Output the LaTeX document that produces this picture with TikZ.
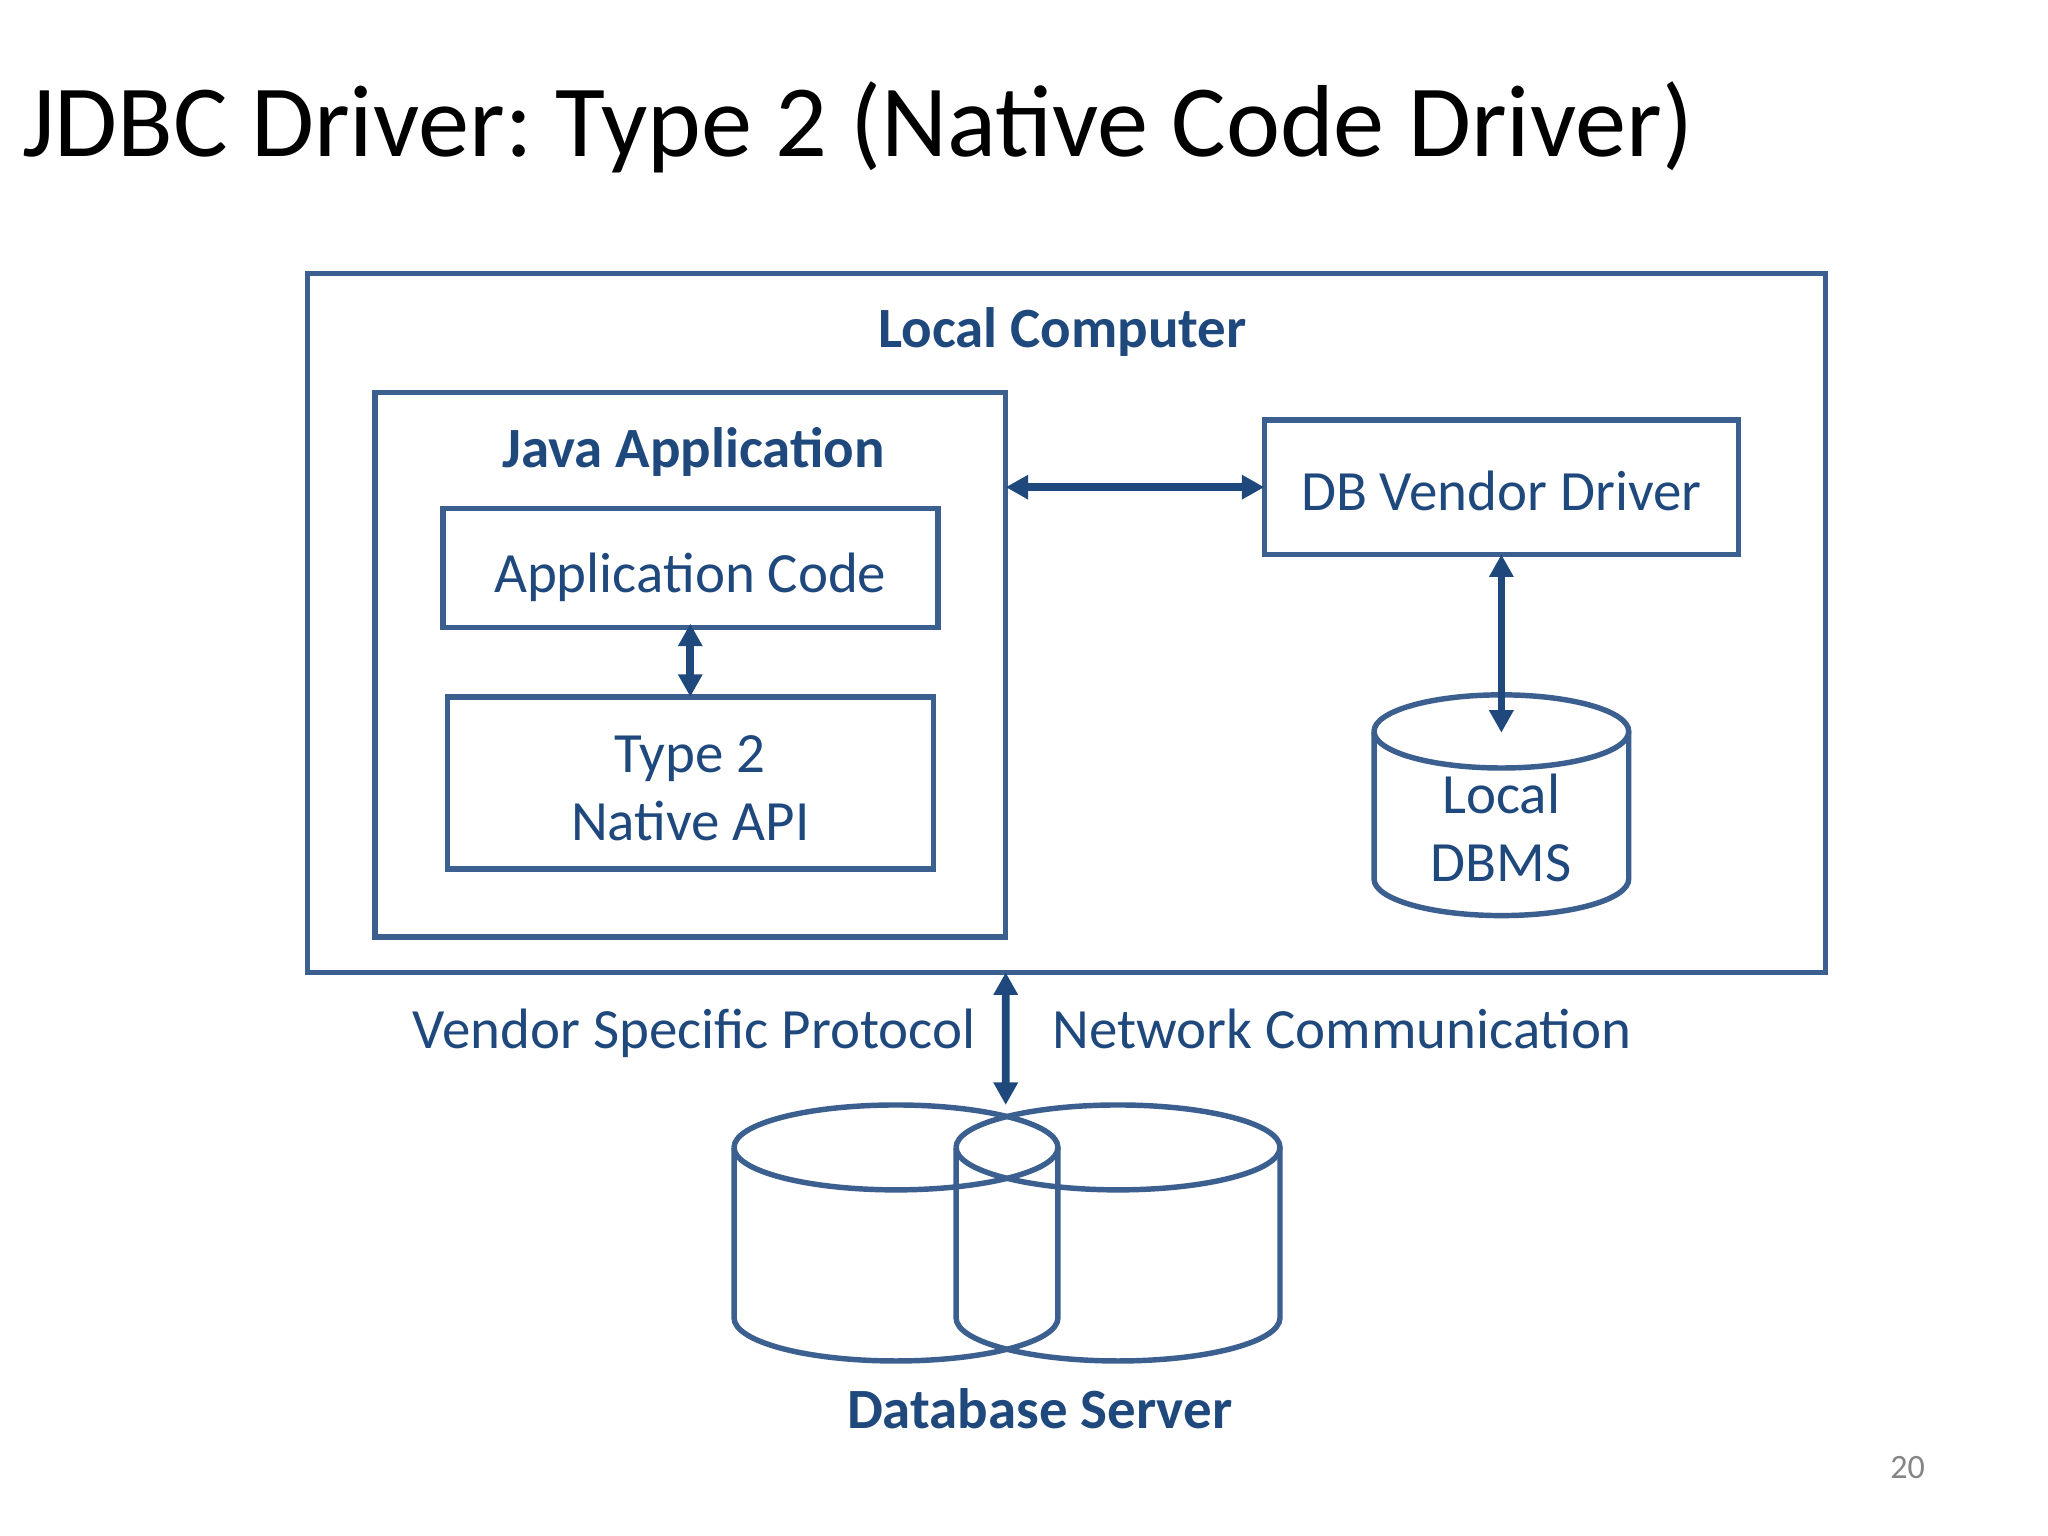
\documentclass[tikz,border=0pt]{standalone}
\usepackage{fontspec}
\setmainfont{Carlito}
\usetikzlibrary{arrows.meta}
\definecolor{boxc}{HTML}{3B5F8F}
\definecolor{textc}{HTML}{1F497D}
\definecolor{arrowc}{HTML}{1F497D}
\def\u{0.0130612cm}
\frenchspacing
\tikzset{
  x=0.0130612cm, y=-0.0130612cm,
  boxed/.style={draw=boxc, line width=1.55pt, inner sep=0pt, outer sep=0pt, text=textc, font=\fontsize{16.2}{19.3}\selectfont, align=center, line join=miter},
  wh/.style 2 args={minimum width=#1*\u, minimum height=#2*\u},
  baseat/.style={text height=#1*\u, text depth=0pt},
  lbl/.style={text=textc, inner sep=0pt, font=\fontsize{16.2}{19.3}\selectfont, anchor=base},
  blbl/.style={text=textc, inner sep=0pt, font=\fontsize{16.2}{19.3}\selectfont\bfseries, anchor=base},
  arr/.style={draw=arrowc, line width=2.2pt, {Triangle[width=6.6pt,length=6.4pt]}-{Triangle[width=6.6pt,length=6.4pt]}},
  cyl/.style={draw=boxc, line width=1.55pt, line join=round},
}
\begin{document}
\begin{tikzpicture}
\useasboundingbox[fill=white] (0,0) rectangle (1568,1176);
\node[anchor=base west, inner sep=0pt, text=black, font=\fontsize{29.12}{34}\selectfont] (title) at (16.5,119.5) {JDBC Driver: Type 2 (Native Code Driver)};
\node[boxed, wh={1162}{535}] (outer) at (816.5,477) {};
\node[blbl] (lc) at (813.5,266) {Local Computer};
\node[boxed, wh={483}{417}] (java) at (528.5,509) {};
\node[blbl] (ja) at (531,358) {Java Application};
\node[boxed, wh={379}{91}, baseat=38] (app) at (528.5,435) {Application Code};
\node[boxed, wh={372}{132}] (type) at (528.5,599.5) {\rule{0pt}{0.47cm}Type 2\\[0pt]Native API};
\node[boxed, wh={363}{103}, baseat=36] (drv) at (1149.5,373) {DB Vendor Driver};
% local DBMS cylinder
\draw[cyl] (1052,560) arc[start angle=180, end angle=-180, x radius=97.5, y radius=28];
\draw[cyl] (1052,560) -- (1052,673) arc[start angle=180, end angle=0, x radius=97.5, y radius=28] -- (1247,560);
\node[lbl] (dl) at (1149.5,623) {Local};
\node[lbl] (dd) at (1149.5,675) {DBMS};
\coordinate (dbtip) at (1149.5,561);
% database server cylinders
\draw[cyl] (562,878.5) arc[start angle=180, end angle=-180, x radius=124, y radius=32.5];
\draw[cyl] (562,878.5) -- (562,1009) arc[start angle=180, end angle=0, x radius=124, y radius=33] -- (810,878.5);
\draw[cyl] (732,878.5) arc[start angle=180, end angle=-180, x radius=124, y radius=32.5];
\draw[cyl] (732,878.5) -- (732,1009) arc[start angle=180, end angle=0, x radius=124, y radius=33] -- (980,878.5);
\coordinate (srvtop) at (770,846);
\node[blbl] (ds) at (796,1094) {Database Server};
\node[lbl] (vsp) at (531.5,802.5) {Vendor Specific Protocol};
\node[lbl] (nc) at (1027.5,803) {Network Communication};
\node[anchor=base, inner sep=0pt, text=black!48, font=\fontsize{9.7}{12}\selectfont] (pg) at (1460.5,1132) {20};
\draw[arr] (java.east |- drv.west) -- (drv.west);
\draw[arr, shorten <=-3*\u] (app.south) -- (type.north);
\draw[arr, line width=1.8pt] (drv.south) -- (dbtip);
\draw[arr] (java.east |- outer.south) -- (srvtop);
\end{tikzpicture}
\end{document}
